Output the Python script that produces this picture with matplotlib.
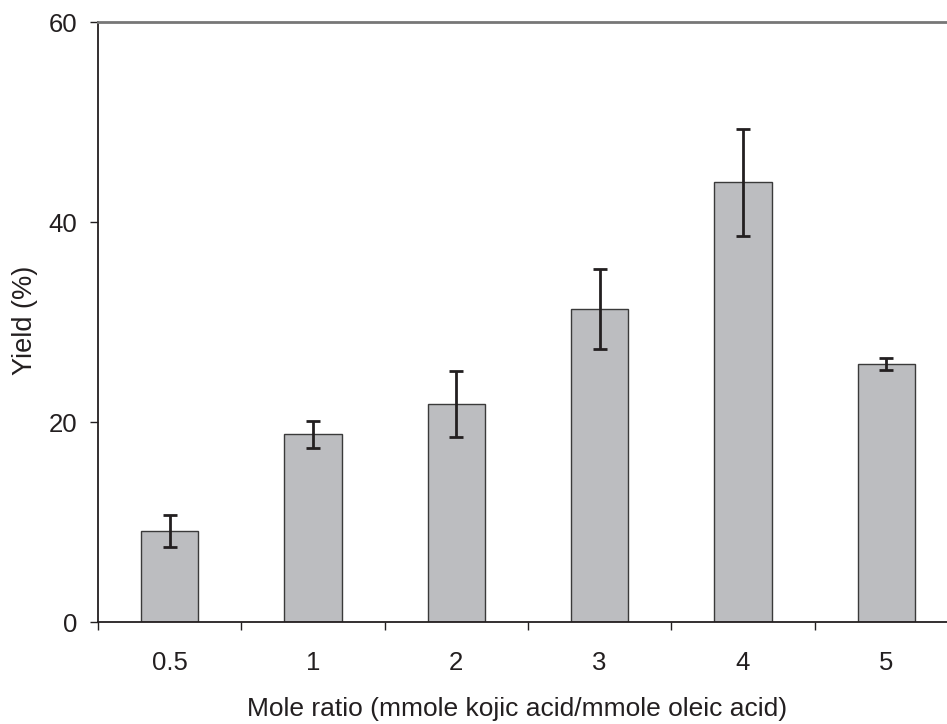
import matplotlib
matplotlib.use("Agg")
import matplotlib.pyplot as plt
import numpy as np

categories = ["0.5", "1", "2", "3", "4", "5"]
yield_mean = [9.1, 18.8, 21.8, 31.3, 44.0, 25.85]
yield_err = [1.6, 1.35, 3.3, 4.0, 5.35, 0.6]
y_ticks = [0, 20, 40, 60]

plt.rcParams['font.family'] = ['Liberation Sans', 'DejaVu Sans']
dark = '#231f20'

W, H = 947, 724
fig = plt.figure(figsize=(W / 100, H / 100), dpi=100)
left, right, top, bottom = 98, 958, 22, 622
ax = fig.add_axes([left / W, 1 - bottom / H, (right - left) / W, (bottom - top) / H])

x = np.arange(len(categories))
ax.bar(x, yield_mean, width=0.4, color='#bcbdc0', edgecolor='#3a3a3a', linewidth=1.0, zorder=2)
ax.errorbar(x, yield_mean, yerr=yield_err, fmt='none', ecolor=dark, elinewidth=2.0,
            capsize=5.2, capthick=2.0, zorder=3)

ax.set_xlim(-0.5, len(categories) - 0.5)
ax.set_ylim(0, 60)

# spines
ax.spines['right'].set_visible(False)
ax.spines['top'].set_color('#777777')
ax.spines['top'].set_linewidth(2.0)
ax.spines['left'].set_color(dark)
ax.spines['left'].set_linewidth(1.3)
ax.spines['bottom'].set_color(dark)
ax.spines['bottom'].set_linewidth(1.3)

# x ticks: boundaries as major (no labels), centers as minor (labels)
ax.set_xticks(np.arange(-0.5, len(categories) - 0.4, 1.0))
ax.set_xticklabels([])
ax.set_xticks(x, minor=True)
ax.set_xticklabels(categories, minor=True)
ax.tick_params(axis='x', which='major', direction='out', length=5.8, width=1.0, color=dark)
ax.tick_params(axis='x', which='minor', length=0, pad=21, labelsize=18.5, labelcolor=dark)

ax.set_yticks(y_ticks)
ax.set_yticklabels([str(v) for v in y_ticks])
ax.tick_params(axis='y', direction='out', length=5.8, width=1.0, color=dark,
               pad=9, labelsize=18.5, labelcolor=dark)

fig.text(25 / W, 1 - 320 / H, "Yield (%)", rotation=90, ha='center', va='center',
         fontsize=19.5, color=dark)
fig.text(517 / W, 1 - 709 / H, "Mole ratio (mmole kojic acid/mmole oleic acid)",
         ha='center', va='center', fontsize=19, color=dark)

fig.savefig("out.png", dpi=100)
